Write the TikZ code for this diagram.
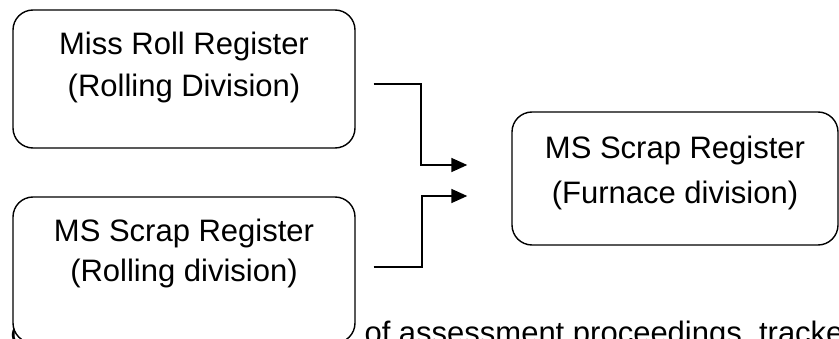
\documentclass[tikz,border=0pt]{standalone}
\usepackage{fontspec}
\setmainfont{Liberation Sans}
\usetikzlibrary{arrows.meta}

\begin{document}
\begin{tikzpicture}[x=1pt,y=1pt,
	register/.style={draw, fill=white, rounded corners=20pt, line width=1.4pt, align=center},
	flow/.style={line width=1.6pt, -{Triangle[length=16pt,width=14pt]}}]

		\useasboundingbox (0,0) rectangle (839,338);
		\clip (0,0) rectangle (839,338);
		\node[anchor=base west, font=\fontsize{31}{42}\selectfont] (stray) at (7,-5) {c};
		\node[anchor=base west, font=\fontsize{31}{42}\selectfont] (assess) at (361,-5) {of assessment proceedings, tracke};
		\node[register, minimum width=342, minimum height=138, text depth=28.5pt, font=\fontsize{31}{42}\selectfont] (missroll) at (184,259) {Miss Roll Register\\(Rolling Division)};
		\node[register, minimum width=342, minimum height=146, text depth=39.3pt, font=\fontsize{31}{40}\selectfont] (msrolling) at (184,68) {MS Scrap Register\\(Rolling division)};
		\node[register, minimum width=326, minimum height=133, text depth=16.5pt, font=\fontsize{31}{45}\selectfont] (msfurnace) at (675,159.5) {MS Scrap Register\\(Furnace division)};
		\draw[flow, shorten <=18pt, shorten >=44pt] ([yshift=-5pt]missroll.east) -| (421,173) -- ([yshift=13.5pt]msfurnace.west);
		\draw[flow, shorten <=18pt, shorten >=44pt] ([yshift=3pt]msrolling.east) -| (422,142) -- ([yshift=-17.5pt]msfurnace.west);
	\end{tikzpicture}
\end{document}
